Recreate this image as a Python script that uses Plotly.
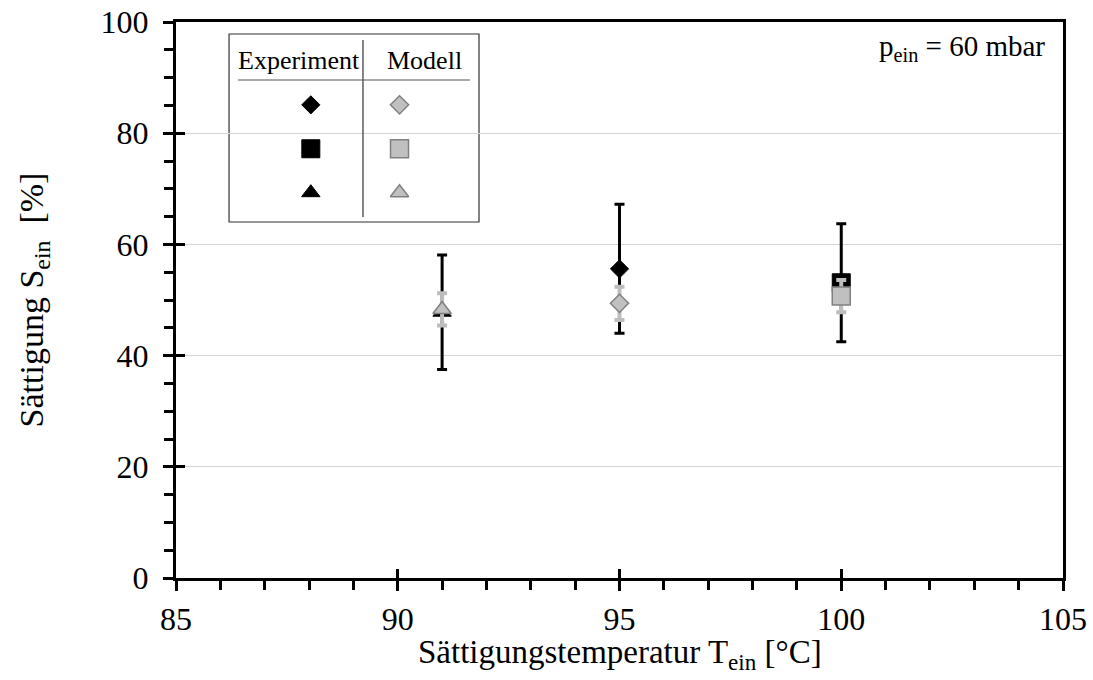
import plotly.graph_objects as go

# ---- data ----
temps = [91, 95, 100]
exp_values = [47.8, 55.6, 53.1]
exp_errors = [10.3, 11.6, 10.6]
model_values = [48.3, 49.4, 50.7]
model_errors = [2.9, 3.0, 2.9]
symbols = ["triangle-up", "diamond", "square"]
marker_sizes = [16, 14, 18]

legend_symbols = ["diamond", "square", "triangle-up"]
legend_sizes = [14, 18, 16]
legend_headers = ["Experiment", "Modell"]

x_title = "Sättigungstemperatur T<sub>ein</sub> [°C]"
y_title = "Sättigung S<sub>ein</sub>  [%]"
note = "p<sub>ein</sub> = 60 mbar"

x_range = [85, 105]
y_range = [0, 100]

FONT = "Liberation Serif"
GRAY_FILL = "#c0c0c0"
GRAY_LINE = "#808080"

fig = go.Figure()

# experiment (black)
fig.add_trace(go.Scatter(
    x=temps, y=exp_values, mode="markers",
    marker=dict(symbol=symbols, size=marker_sizes, color="black", opacity=1,
                line=dict(color="black", width=1)),
    error_y=dict(type="data", array=exp_errors, color="black",
                 thickness=3, width=5),
    showlegend=False, cliponaxis=False,
))
# model (gray)
fig.add_trace(go.Scatter(
    x=temps, y=model_values, mode="markers",
    marker=dict(symbol=symbols, size=marker_sizes, color=GRAY_FILL, opacity=1,
                line=dict(color=GRAY_LINE, width=1.5)),
    error_y=dict(type="data", array=model_errors, color="#bdbdbd",
                 thickness=4, width=5),
    showlegend=False, cliponaxis=False,
))

# invisible trace to activate the overlay tick axes
fig.add_trace(go.Scatter(x=[None], y=[None], xaxis="x2", yaxis="y2",
                         showlegend=False, hoverinfo="skip"))

# ---- custom legend (inset table) on its own 0..1 axes ----
leg_x_exp, leg_x_mod = 0.152, 0.252
leg_rows = [0.851, 0.772, 0.693]
fig.add_trace(go.Scatter(
    x=[leg_x_exp] * 3, y=leg_rows, mode="markers", xaxis="x3", yaxis="y3",
    marker=dict(symbol=legend_symbols, size=legend_sizes, color="black",
                opacity=1, line=dict(color="black", width=1)),
    showlegend=False, hoverinfo="skip", cliponaxis=False,
))
fig.add_trace(go.Scatter(
    x=[leg_x_mod] * 3, y=leg_rows, mode="markers", xaxis="x3", yaxis="y3",
    marker=dict(symbol=legend_symbols, size=legend_sizes, color=GRAY_FILL,
                opacity=1, line=dict(color=GRAY_LINE, width=1.5)),
    showlegend=False, hoverinfo="skip", cliponaxis=False,
))

shapes = [
    dict(type="rect", xref="paper", yref="paper", x0=0.0598, x1=0.3416,
         y0=0.6403, y1=0.9784, fillcolor="white",
         line=dict(color="#333333", width=1.2), layer="between"),
    dict(type="line", xref="paper", yref="paper", x0=0.2108, x1=0.2108,
         y0=0.6493, y1=0.9676, line=dict(color="#333333", width=1.2)),
    dict(type="line", xref="paper", yref="paper", x0=0.0699, x1=0.3315,
         y0=0.8957, y1=0.8957, line=dict(color="#555555", width=1.2)),
]

annotations = [
    dict(text=legend_headers[0], xref="paper", yref="paper", x=0.1387, y=0.930,
         xanchor="center", yanchor="middle", showarrow=False,
         font=dict(family=FONT, size=26, color="black")),
    dict(text=legend_headers[1], xref="paper", yref="paper", x=0.2807, y=0.930,
         xanchor="center", yanchor="middle", showarrow=False,
         font=dict(family=FONT, size=26, color="black")),
    dict(text=note, xref="paper", yref="paper",
         x=0.982, y=0.953, xanchor="right", yanchor="middle", showarrow=False,
         font=dict(family=FONT, size=29, color="black")),
    dict(text=x_title, xref="paper", yref="paper", x=0.5, y=-0.178,
         xanchor="center", yanchor="bottom", showarrow=False,
         font=dict(family=FONT, size=33, color="black")),
]

fig.update_layout(
    width=1093, height=680,
    margin=dict(l=176, r=30, t=22, b=102, autoexpand=False),
    paper_bgcolor="white", plot_bgcolor="white",
    font=dict(family=FONT, size=33, color="black"),
    showlegend=False,
    shapes=shapes, annotations=annotations,
    xaxis=dict(
        range=x_range, tick0=85, dtick=5, automargin=False,
        ticks="outside", ticklen=10, tickwidth=3, tickcolor="black",
        minor=dict(dtick=1, ticks="outside", ticklen=9, tickwidth=3,
                   tickcolor="black", showgrid=False),
        showline=True, linewidth=3, linecolor="black", mirror=True,
        showgrid=False, zeroline=False,
        tickfont=dict(family=FONT, size=32),
        ticklabelstandoff=1,
    ),
    yaxis=dict(
        range=y_range, tick0=0, dtick=20, automargin=False,
        ticks="outside", ticklen=10, tickwidth=3, tickcolor="black",
        minor=dict(dtick=5, ticks="outside", ticklen=9, tickwidth=3,
                   tickcolor="black", showgrid=False),
        showline=True, linewidth=3, linecolor="black", mirror=True,
        showgrid=True, gridcolor="#d4d4d4", gridwidth=1, zeroline=False,
        tickfont=dict(family=FONT, size=32),
        ticklabelstandoff=8,
        title=dict(text=y_title, font=dict(family=FONT, size=34), standoff=47),
    ),
    xaxis2=dict(
        overlaying="x", anchor="y2", side="bottom", range=x_range,
        tick0=85, dtick=5, ticks="inside", ticklen=9, tickwidth=3,
        tickcolor="black", showticklabels=False, showline=False,
        showgrid=False, zeroline=False, automargin=False,
    ),
    yaxis2=dict(
        overlaying="y", anchor="x2", side="left", range=y_range,
        tick0=0, dtick=20, ticks="inside", ticklen=9, tickwidth=3,
        tickcolor="black", showticklabels=False, showline=False,
        showgrid=False, zeroline=False, automargin=False,
    ),
    xaxis3=dict(overlaying="x", anchor="y3", range=[0, 1], visible=False),
    yaxis3=dict(overlaying="y", anchor="x3", range=[0, 1], visible=False),
)

fig.write_html("out.html")
